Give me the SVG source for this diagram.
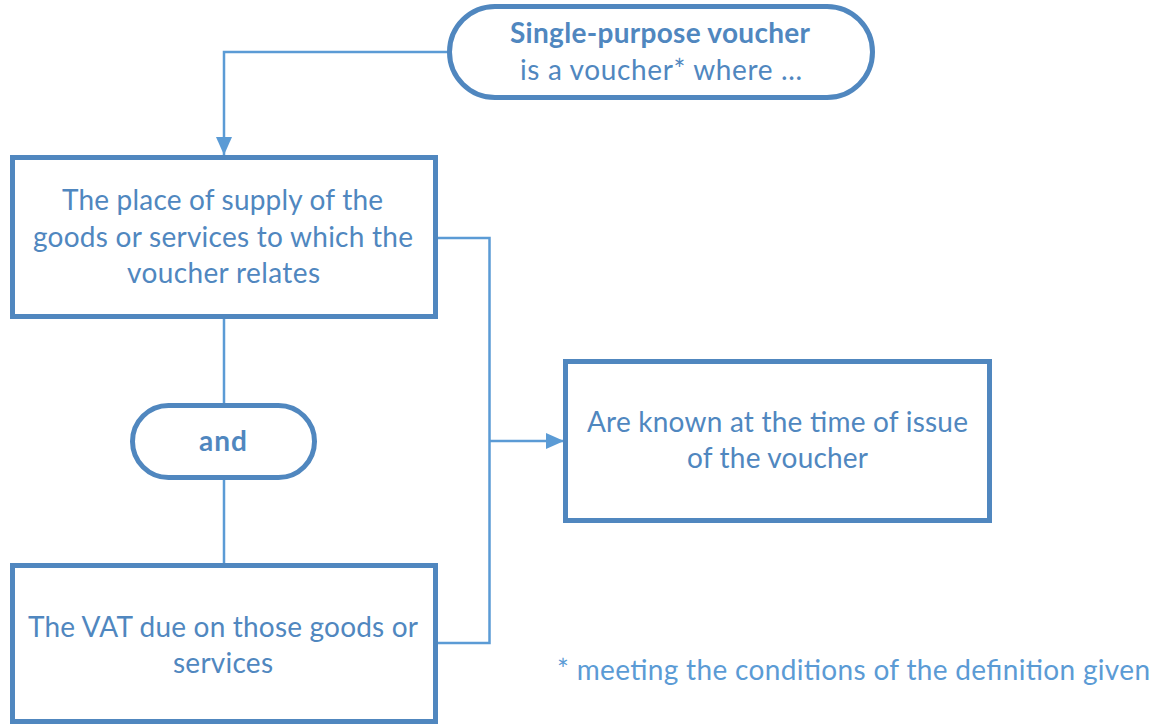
<svg xmlns="http://www.w3.org/2000/svg" width="1158" height="726" viewBox="0 0 1158 726">
  <style>
    .shape { fill: #ffffff; stroke: #5087BF; stroke-width: 5; }
    .link { fill: none; stroke: #5B9BD5; stroke-width: 2.5; }
    .txt { font-family: Lato, "Liberation Sans", sans-serif; font-size: 28px; fill: #5087BF; text-anchor: middle; }
    .bold { font-weight: bold; }
    .note { font-family: Lato, "Liberation Sans", sans-serif; font-size: 28px; fill: #5B9BD5; }
  </style>
  <defs>
    <marker id="arrow" markerUnits="userSpaceOnUse" markerWidth="18" markerHeight="16" refX="18" refY="8" orient="auto">
      <path d="M0,0 L18,8 L0,16 Z" fill="#5B9BD5"/>
    </marker>
  </defs>
  <rect width="1158" height="726" fill="#ffffff"/>

  <g id="connectors">
    <path class="link" d="M449.5,52 H224 V155" marker-end="url(#arrow)"/>
    <path class="link" d="M224,317 V405"/>
    <path class="link" d="M224,478 V565"/>
    <path class="link" d="M436,238 H489.5 V643 H436"/>
    <path class="link" d="M489.5,441 H564" marker-end="url(#arrow)"/>
  </g>

  <g id="single-purpose">
    <rect class="shape" x="449.5" y="6.5" width="423" height="91" rx="45.5" ry="45.5"/>
    <text class="txt bold" x="660" y="43" textLength="300">Single-purpose voucher</text>
    <text class="txt" x="661" y="80" textLength="282">is a voucher* where ...</text>
  </g>

  <g id="place-of-supply">
    <rect class="shape" x="12.5" y="157.5" width="423" height="159"/>
    <text class="txt" x="222.5" y="210" textLength="321">The place of supply of the</text>
    <text class="txt" x="223" y="247" textLength="380">goods or services to which the</text>
    <text class="txt" x="223.5" y="283" textLength="193">voucher relates</text>
  </g>

  <g id="and">
    <rect class="shape" x="132.5" y="405.5" width="182" height="72" rx="36" ry="36"/>
    <text class="txt bold" x="223" y="451" textLength="48">and</text>
  </g>

  <g id="vat-due">
    <rect class="shape" x="12.5" y="565.5" width="423" height="156"/>
    <text class="txt" x="223" y="637" textLength="390">The VAT due on those goods or</text>
    <text class="txt" x="223" y="673" textLength="100">services</text>
  </g>

  <g id="known">
    <rect class="shape" x="565.5" y="361.5" width="424" height="159"/>
    <text class="txt" x="777.5" y="432" textLength="381">Are known at the time of issue</text>
    <text class="txt" x="777.5" y="468" textLength="181">of the voucher</text>
  </g>

  <text class="note" x="557" y="680" textLength="593">* meeting the conditions of the definition given</text>
</svg>
